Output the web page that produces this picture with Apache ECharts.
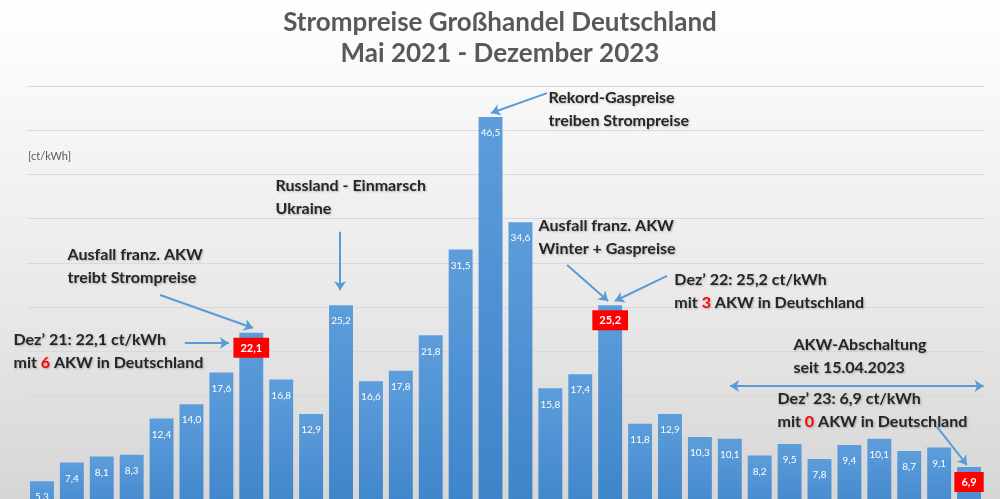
<!DOCTYPE html>
<html>
<head>
<meta charset="utf-8">
<script src="https://cdn.jsdelivr.net/npm/echarts@6/dist/echarts.min.js"></script>
<style>
html,body{margin:0;padding:0;overflow:hidden;width:1000px;height:499px;}
#wrap{width:1000px;height:499px;overflow:hidden;position:relative;}
#c{width:1000px;height:540px;}
</style>
</head>
<body>
<div id="wrap"><div id="c"></div></div>
<script>
const months = ['Mai 21','Jun 21','Jul 21','Aug 21','Sep 21','Okt 21','Nov 21','Dez 21',
  'Jan 22','Feb 22','Mär 22','Apr 22','Mai 22','Jun 22','Jul 22','Aug 22','Sep 22','Okt 22','Nov 22','Dez 22',
  'Jan 23','Feb 23','Mär 23','Apr 23','Mai 23','Jun 23','Jul 23','Aug 23','Sep 23','Okt 23','Nov 23','Dez 23'];
const prices = [5.3,7.4,8.1,8.3,12.4,14.0,17.6,22.1,16.8,12.9,25.2,16.6,17.8,21.8,31.5,46.5,34.6,15.8,17.4,25.2,
  11.8,12.9,10.3,10.1,8.2,9.5,7.8,9.4,10.1,8.7,9.1,6.9];
const highlightIdx = [7, 19, 31];
const yTicks = [0, 50, 5];

// annotations: text and anchor in data coordinates (x in category units, y in ct/kWh)
const notes = [
  {text: 'Rekord-Gaspreise\ntreiben Strompreise', at: [17.42, 47.34]},
  {text: 'Russland - Einmarsch\nUkraine', at: [8.29, 37.39]},
  {text: 'Ausfall franz. AKW\ntreibt Strompreise', at: [1.34, 29.58]},
  {text: 'Dez’ 21: 22,1 ct/kWh\nmit {r|6} AKW in Deutschland', at: [0, 19.95], dx: -14},
  {text: 'Ausfall franz. AKW\nWinter + Gaspreise', at: [17.09, 32.86]},
  {text: 'Dez’ 22: 25,2 ct/kWh\nmit {r|3} AKW in Deutschland', at: [21.63, 26.81]},
  {text: 'AKW-Abschaltung\nseit 15.04.2023', at: [25.61, 19.46]},
  {text: 'Dez’ 23: 6,9 ct/kWh\nmit {r|0} AKW in Deutschland', at: [25.08, 13.35]}
];
const arrows = [
  {from: [17.39, 49.2], to: [15.52, 46.95]},
  {from: [10.47, 33.5], to: [10.47, 26.9]},
  {from: [4.45, 26.36], to: [7.56, 22.62]},
  {from: [5.28, 20.93], to: [6.75, 20.93]},
  {from: [18.06, 29.75], to: [19.43, 25.68]},
  {from: [21.40, 28.51], to: [19.66, 25.68]},
  {from: [23.51, 16.06], to: [31.99, 16.06], both: true},
  {from: [30.43, 11.43], to: [31.43, 7.13]}
];

const fmt = v => v.toFixed(1).replace('.', ',');
const blue = {type:'linear',x:0,y:0,x2:0,y2:1,colorStops:[{offset:0,color:'#5d9ddb'},{offset:1,color:'#3b82c8'}]};

const barData = prices.map((v, i) => {
  if (highlightIdx.indexOf(i) >= 0) {
    return {value: v, label: {backgroundColor: '#ff0000', padding: [5, 7, 4, 7], fontSize: 11, fontWeight: 'bold', distance: 5}};
  }
  return v;
});

const fontFam = 'Lato, "Open Sans", sans-serif';
const chart = echarts.init(document.getElementById('c'), null, {renderer: 'canvas'});
chart.setOption({
  backgroundColor: {type:'linear',x:0,y:0,x2:0,y2:1,colorStops:[
    {offset:0,color:'#ffffff'},{offset:0.2,color:'#f7f7f7'},{offset:0.55,color:'#e9e9e9'},{offset:0.92,color:'#d6d6d6'},{offset:1,color:'#d4d4d4'}]},
  animation: false,
  title: {
    text: 'Strompreise Großhandel Deutschland\nMai 2021 - Dezember 2023',
    left: 'center', top: 2,
    textStyle: {fontFamily: fontFam, fontSize: 26, fontWeight: 'bold', color: '#595959', lineHeight: 31}
  },
  graphic: [{type: 'text', left: 28, top: 151, style: {text: '[ct/kWh]', fontSize: 11, fontFamily: fontFam, fill: '#595959'}}],
  grid: {left: 27, right: 16, top: 86, bottom: 12, containLabel: false},
  xAxis: [
    {type: 'category', data: months, axisLine: {show: false}, axisTick: {show: false}, axisLabel: {show: false}},
    {type: 'value', min: 0, max: 32, show: false}
  ],
  yAxis: {type: 'value', min: yTicks[0], max: yTicks[1], interval: yTicks[2],
    axisLabel: {show: false}, axisLine: {show: false}, axisTick: {show: false},
    splitLine: {lineStyle: {color: '#d9d9d9', width: 1}}},
  series: [
    {
      type: 'bar', data: barData, barCategoryGap: '20%',
      itemStyle: {color: blue},
      label: {show: true, position: 'insideTop', distance: 11, color: '#ffffff', fontSize: 10,
        fontFamily: fontFam, formatter: p => fmt(p.value)}
    },
    {
      type: 'scatter', xAxisIndex: 1, yAxisIndex: 0, data: [[0.5, 0]], symbolSize: 0, silent: true,
      markLine: {
        silent: true, symbolSize: [9, 9], precision: 4,
        label: {show: false},
        lineStyle: {color: '#5b9bd5', width: 2, type: 'solid'},
        data: arrows.map(a => [
          {coord: a.from, symbol: a.both ? 'arrow' : 'none'},
          {coord: a.to, symbol: 'arrow'}
        ])
      },
      markPoint: {
        silent: true, symbol: 'circle', symbolSize: 1,
        itemStyle: {color: 'rgba(0,0,0,0)'},
        data: notes.map(n => ({
          coord: n.at,
          label: {
            show: true, position: 'right', distance: 0, offset: [n.dx || 0, 0],
            formatter: n.text, fontFamily: fontFam, fontSize: 16, fontWeight: 'bold',
            color: '#262626', lineHeight: 23, align: 'left',
            textShadowColor: 'rgba(0,0,0,0.25)', textShadowBlur: 2, textShadowOffsetX: 1, textShadowOffsetY: 1,
            rich: {r: {color: '#ff0000', fontFamily: fontFam, fontSize: 16, fontWeight: 'bold', lineHeight: 23}}
          }
        }))
      }
    }
  ]
});
</script>
</body>
</html>
